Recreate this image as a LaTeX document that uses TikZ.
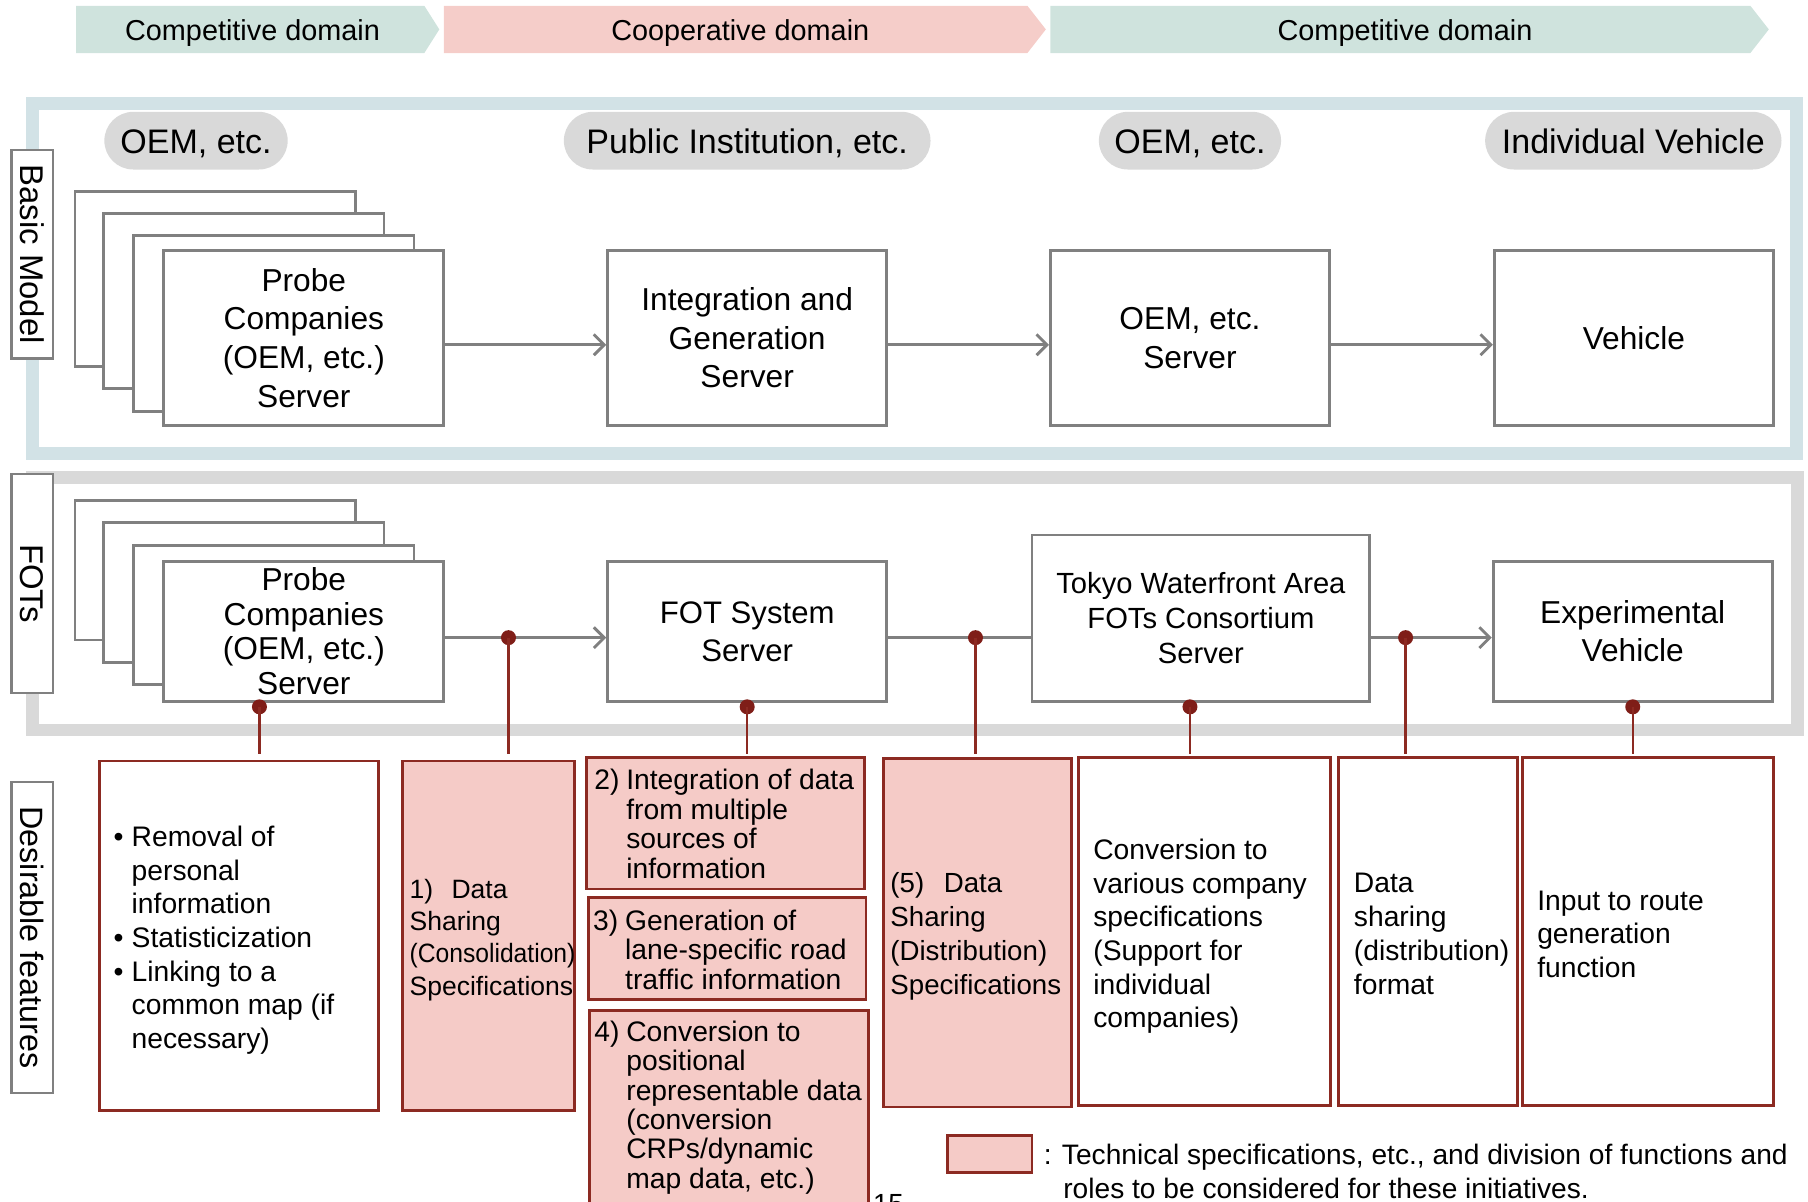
\documentclass[tikz,border=0pt]{standalone}
\usepackage{fontspec}
\usepackage{graphicx}
\setmainfont{Liberation Sans}
\usetikzlibrary{arrows.meta}

\definecolor{domgreen}{HTML}{CFE3DD}
\definecolor{dompink}{HTML}{F5CDC9}
\definecolor{frameblue}{HTML}{D2E2E6}
\definecolor{framegray}{HTML}{D9D9D9}
\definecolor{pillgray}{HTML}{D9D9D9}
\definecolor{boxgray}{HTML}{808080}
\definecolor{specred}{HTML}{8C2A22}
\definecolor{dotred}{HTML}{7F1E18}
\definecolor{specfill}{HTML}{F5CBC7}

\newcommand{\fsz}[2]{\fontsize{#1}{#2}\selectfont}
\newcommand{\bul}{\llap{\textbullet\hspace{7pt}}}

\begin{document}
\begin{tikzpicture}[x=1pt,y=-1pt,
  domtext/.style={font=\fsz{25}{30}, inner sep=0},
  pill/.style={fill=pillgray, rounded corners=25pt, minimum height=50, inner sep=0, font=\fsz{29.5}{34}},
  pilltext/.style={font=\fsz{29.5}{34}, inner sep=0},
  srv/.style={draw=boxgray, line width=2.5pt, fill=white, align=center, inner sep=0, font=\fsz{27.5}{33.5}},
  lab/.style={draw=boxgray, line width=2pt, fill=white, inner sep=0, minimum height=36, rotate=-90, font=\fsz{28.5}{30}},
  arr/.style={draw=boxgray, line width=2.5pt, -{Straight Barb[length=9pt,width=18pt]}},
  plain/.style={draw=boxgray, line width=2.5pt},
  dot/.style={fill=dotred, circle, minimum size=13, inner sep=0},
  redline/.style={draw=specred, line width=2pt},
  spec/.style={draw=specred, line width=2.5pt, fill=specfill, inner sep=0},
  feat/.style={draw=specred, line width=2.5pt, fill=white, inner sep=0},
  txt/.style={anchor=west, align=left, inner sep=0, font=\fsz{24.5}{29.2}}
]
\useasboundingbox (0,0) rectangle (1568,1042);

% domain banner
\fill[domgreen] (66,5) -- (368,5) -- (381,25.5) -- (368,46) -- (66,46) -- cycle;
\fill[dompink] (385,5) -- (891,5) -- (907,25.5) -- (891,46) -- (385,46) -- cycle;
\fill[domgreen] (911,5) -- (1518,5) -- (1534,25.5) -- (1518,46) -- (911,46) -- cycle;
\node[domtext] (dom1) at (219,28.5) {Competitive domain};
\node[domtext] (dom2) at (642,28.5) {Cooperative domain};
\node[domtext] (dom3) at (1218.5,28.5) {Competitive domain};

% frames of the two rows
\draw[frameblue, line width=11.5pt] (28,90) rectangle (1558,393);
\draw[framegray, line width=11pt] (28,414) rectangle (1559,633);

% row labels
\node[lab, minimum width=181] (lbasic) at (28,220.5) {Basic Model};
\node[lab, minimum width=190] (lfot) at (28,506) {FOTs};
\node[lab, minimum width=270, font=\fsz{28}{30}] (lfeat) at (28,813) {Desirable features};

% actor pills
\node[pill, minimum width=159] (p1) at (170,122) {};
\node[pill, minimum width=318] (p2) at (648,122) {};
\node[pill, minimum width=158] (p3) at (1032,122) {};
\node[pill, minimum width=257] (p4) at (1416.5,122) {};
\node[pilltext] (p1t) at (170,124.5) {OEM, etc.};
\node[pilltext] (p2t) at (648,124.5) {Public Institution, etc.};
\node[pilltext] (p3t) at (1032,124.5) {OEM, etc.};
\node[pilltext] (p4t) at (1416.5,123) {Individual Vehicle};

% basic model servers
\node[srv, minimum width=243, minimum height=152] (pbA) at (186.5,242) {};
\node[srv, minimum width=243, minimum height=152] (pbB) at (211.5,261) {};
\node[srv, minimum width=243, minimum height=152] (pbC) at (237.5,280.5) {};
\node[srv, minimum width=243, minimum height=152] (pb) at (263.5,293) {Probe\\Companies\\(OEM, etc.)\\Server};
\node[srv, minimum width=242, minimum height=152] (igs) at (648,293) {Integration and\\Generation\\Server};
\node[srv, minimum width=242, minimum height=152] (oems) at (1032,293) {OEM, etc.\\Server};
\node[srv, minimum width=242, minimum height=152] (veh) at (1417,293) {Vehicle};

\coordinate (rowB) at (0,299);
\draw[arr] (pb.east |- rowB) -- (igs.west |- rowB);
\draw[arr] (igs.east |- rowB) -- (oems.west |- rowB);
\draw[arr] (oems.east |- rowB) -- (veh.west |- rowB);

% FOT servers
\node[srv, minimum width=243, minimum height=121] (pfA) at (186.5,494.5) {};
\node[srv, minimum width=243, minimum height=121] (pfB) at (211.5,514) {};
\node[srv, minimum width=243, minimum height=121] (pfC) at (237.5,533.5) {};
\node[srv, minimum width=243, minimum height=121, font=\fsz{27.5}{30}] (pf) at (263.5,547.5) {Probe\\Companies\\(OEM, etc.)\\Server};
\node[srv, minimum width=242, minimum height=121, font=\fsz{27}{33}] (fots) at (648,547.5) {FOT System\\Server};
\node[srv, minimum width=293, minimum height=144, font=\fsz{25.3}{30}] (tok) at (1041.5,536) {Tokyo Waterfront Area\\FOTs Consortium\\Server};
\node[srv, minimum width=242, minimum height=121, font=\fsz{27.5}{33}] (exv) at (1416,547.5) {Experimental\\Vehicle};

\coordinate (rowF) at (0,553);
\draw[arr] (pf.east |- rowF) -- (fots.west |- rowF);
\draw[plain] (fots.east |- rowF) -- (tok.west |- rowF);
\draw[arr] (tok.east |- rowF) -- (exv.west |- rowF);

% desirable features boxes
\node[feat, minimum width=242, minimum height=303] (f1) at (207,811.5) {};
\node[spec, minimum width=149, minimum height=303] (f2) at (423.5,811.5) {};
\node[spec, minimum width=241, minimum height=114] (f3a) at (629.5,714) {};
\node[spec, minimum width=241, minimum height=89] (f3b) at (630.5,822.5) {};
\node[spec, minimum width=242, minimum height=220] (f3c) at (632,986) {};
\node[spec, minimum width=163, minimum height=302] (f4) at (847.5,809) {};
\node[feat, minimum width=219, minimum height=302] (f5) at (1044.5,808) {};
\node[feat, minimum width=155, minimum height=302] (f6) at (1238.5,808) {};
\node[feat, minimum width=218, minimum height=302] (f7) at (1429,808) {};

% connection markers
\node[dot] (d1) at (225,613) {};
\node[dot] (d2) at (441,553) {};
\node[dot] (d3) at (648,613) {};
\node[dot] (d4) at (846,553) {};
\node[dot] (d5) at (1032,613) {};
\node[dot] (d6) at (1219,553) {};
\node[dot] (d7) at (1416,613) {};
\draw[redline, shorten >=5pt] (d1.center) -- (d1 |- f1.north);
\draw[redline, shorten >=5pt] (d2.center) -- (d2 |- f2.north);
\draw[redline, shorten >=2pt] (d3.center) -- (d3 |- f3a.north);
\draw[redline, shorten >=3pt] (d4.center) -- (d4 |- f4.north);
\draw[redline, shorten >=2pt] (d5.center) -- (d5 |- f5.north);
\draw[redline, shorten >=2pt] (d6.center) -- (d6 |- f6.north);
\draw[redline, shorten >=2pt] (d7.center) -- (d7 |- f7.north);

% feature texts
\node[txt] (t1) at (114,815.5) {\bul Removal of\\personal\\information\\\bul Statisticization\\\bul Linking to a\\common map (if\\necessary)};
\node[txt, font=\fsz{23}{28}] (t2) at (355,815) {1)\hspace{16pt}Data\\Sharing\\\scalebox{0.93}[1]{(Consolidation)}\\Specifications};
\node[txt, font=\fsz{24.5}{25.7}] (t3a) at (543,714.5) {\llap{2)\hspace{6pt}}Integration of data\\from multiple\\sources of\\information};
\node[txt, font=\fsz{24.5}{25.5}] (t3b) at (542,823.5) {\llap{3)\hspace{6pt}}Generation of\\lane-specific road\\traffic information};
\node[txt, font=\fsz{24.5}{25.4}] (t3c) at (543,960.5) {\llap{4)\hspace{6pt}}Conversion to\\positional\\representable data\\(conversion\\CRPs/dynamic\\map data, etc.)};
\node[txt, font=\fsz{24}{29.3}] (t4) at (772,812) {(5)\hspace{17pt}Data\\Sharing\\(Distribution)\\Specifications};
\node[txt] (t5) at (948,812) {Conversion to\\various company\\specifications\\(Support for\\individual\\companies)};
\node[txt, font=\fsz{24.5}{29.3}] (t6) at (1174,810) {Data\\sharing\\(distribution)\\format};
\node[txt, font=\fsz{24.5}{29}] (t7) at (1333,810) {Input to route\\generation\\function};

% legend
\node[spec, minimum width=73, minimum height=32] (leg) at (858.5,1001) {};
\node[txt, font=\fsz{24.4}{29}] (legt) at (905,1016) {: Technical specifications, etc., and division of functions and\\\hspace*{17pt}roles to be considered for these initiatives.};

% page number
\node[anchor=north west, inner sep=0, font=\fsz{24}{24}] (pg) at (757,1036) {15};
\end{tikzpicture}
\end{document}
